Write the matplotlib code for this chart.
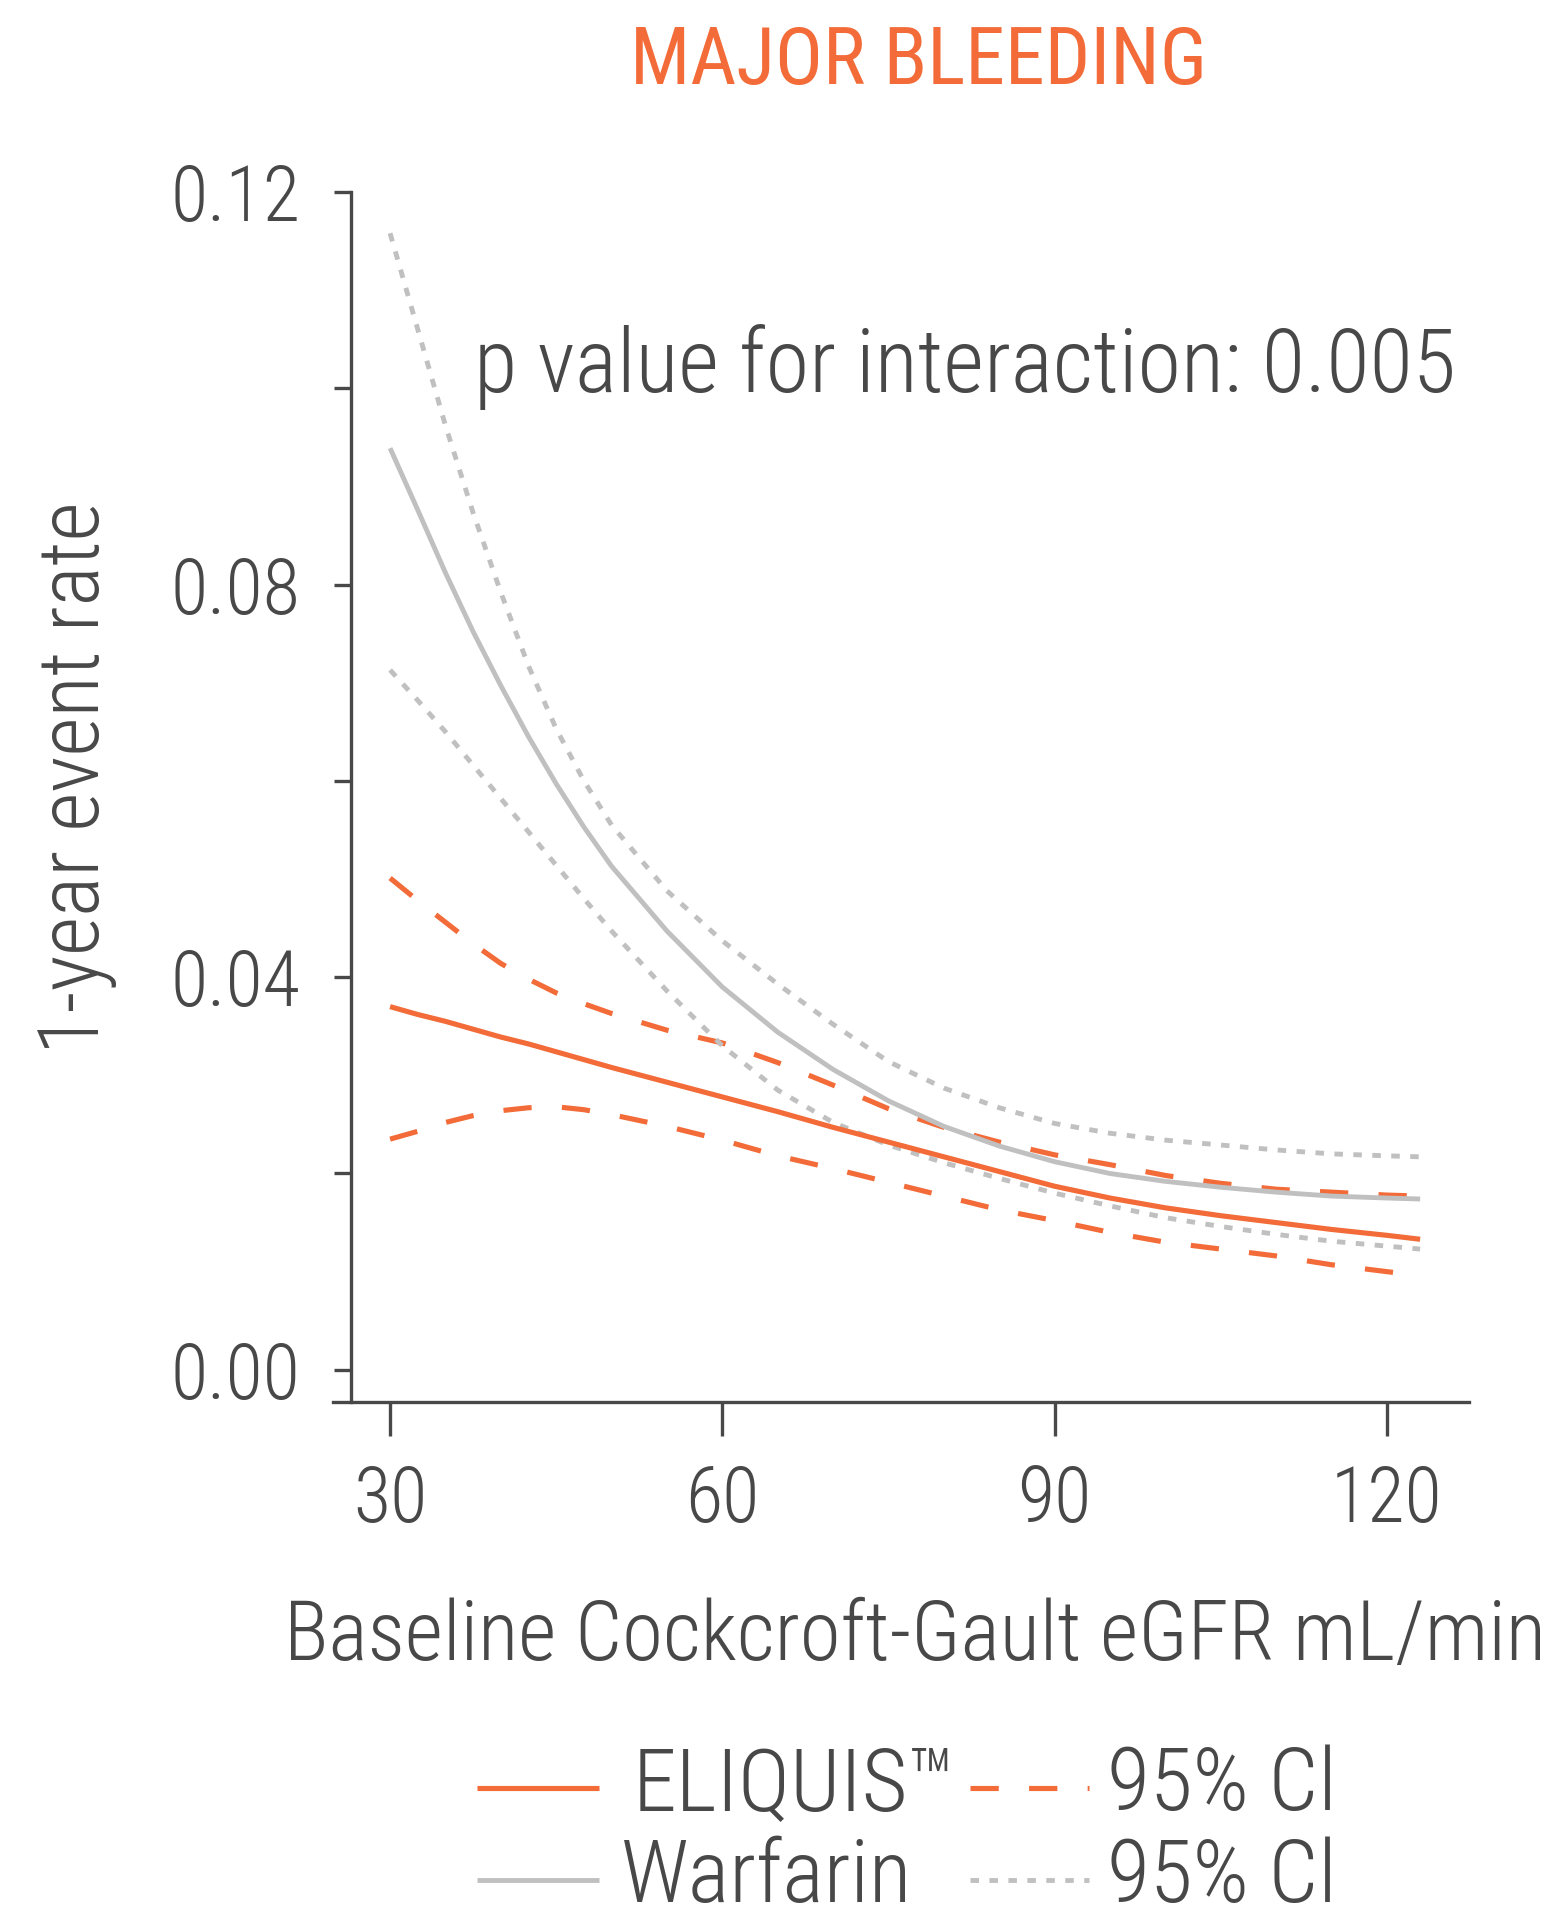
import matplotlib
matplotlib.use("Agg")
import matplotlib.pyplot as plt
from matplotlib.lines import Line2D
from matplotlib.ticker import FixedLocator
from matplotlib import font_manager

# ---- data: 1-year major bleeding event rate vs baseline CrCl ----
egfr = [30, 32.5, 35, 37.5, 40, 42.5, 45, 47.5, 50, 55, 60, 65, 70, 75, 80,
        85, 90, 95, 100, 105, 110, 115, 120, 123]

eliquis = [0.0370, 0.0362, 0.0355, 0.0347, 0.0339, 0.0332, 0.0324, 0.0316,
           0.0308, 0.0293, 0.0278, 0.0263, 0.0247, 0.0232, 0.0217, 0.0202,
           0.0187, 0.0175, 0.0165, 0.0157, 0.0150, 0.0143, 0.0137, 0.0133]
eliquis_hi = [0.0501, 0.0478, 0.0456, 0.0434, 0.0414, 0.0398, 0.0384, 0.0373,
              0.0363, 0.0346, 0.0333, 0.0313, 0.0290, 0.0266, 0.0247, 0.0232,
              0.0219, 0.0209, 0.0198, 0.0190, 0.0184, 0.0181, 0.0178, 0.0177]
eliquis_lo = [0.0235, 0.0243, 0.0252, 0.0259, 0.0264, 0.0267, 0.0268, 0.0265,
              0.0260, 0.0248, 0.0234, 0.0218, 0.0205, 0.0191, 0.0177, 0.0163,
              0.0152, 0.0140, 0.0130, 0.0123, 0.0116, 0.0107, 0.0100, 0.0096]

warfarin = [0.0939, 0.0876, 0.0812, 0.0752, 0.0697, 0.0645, 0.0597, 0.0553,
            0.0513, 0.0447, 0.0390, 0.0344, 0.0306, 0.0274, 0.0248, 0.0228,
            0.0212, 0.0200, 0.0192, 0.0186, 0.0181, 0.0177, 0.0175, 0.0174]
warfarin_hi = [0.1158, 0.1060, 0.0962, 0.0873, 0.0792, 0.0717, 0.0653, 0.0600,
               0.0555, 0.0488, 0.0437, 0.0393, 0.0352, 0.0314, 0.0287, 0.0267,
               0.0251, 0.0241, 0.0234, 0.0229, 0.0224, 0.0220, 0.0218, 0.0217]
warfarin_lo = [0.0713, 0.0682, 0.0650, 0.0616, 0.0582, 0.0548, 0.0514, 0.0480,
               0.0447, 0.0386, 0.0330, 0.0285, 0.0252, 0.0229, 0.0211, 0.0195,
               0.0180, 0.0167, 0.0155, 0.0146, 0.0138, 0.0131, 0.0126, 0.0123]

x_ticks = [30, 60, 90, 120]
y_ticks = [0.00, 0.04, 0.08, 0.12]
y_minor = [0.02, 0.06, 0.10]
y_tick_labels = ["0.00", "0.04", "0.08", "0.12"]

title = "MAJOR BLEEDING"
x_label = "Baseline Cockcroft-Gault eGFR mL/min"
y_label = "1-year event rate"
p_text = "p value for interaction: 0.005"
legend_labels = ["ELIQUIS\u2122", "Warfarin", "95% Cl", "95% Cl"]

# ---- style ----
ORANGE = "#F26B38"
GREY = "#C0C0C0"
INK = "#484848"
DASH = (0, (5.5, 5.9))
DOT = (0, (1.75, 2.15))
LW_O, LW_G = 3.7, 3.5

available = {f.name for f in font_manager.fontManager.ttflist}
family = next((f for f in ("Roboto Condensed", "Liberation Sans Narrow", "Roboto")
               if f in available), "DejaVu Sans")
plt.rcParams["font.family"] = [family, "DejaVu Sans"]
plt.rcParams["text.color"] = INK
BODY_WEIGHT = "light"

W, H = 1563, 1918
fig = plt.figure(figsize=(W / 100, H / 100), dpi=100)
fig.patch.set_facecolor("white")
renderer = fig.canvas.get_renderer()


def size_for_width(s, target_px, weight=BODY_WEIGHT, probe=50):
    """Font size (pt) at which string s renders target_px wide."""
    t = fig.text(0, 0, s, fontsize=probe, fontweight=weight)
    w = t.get_window_extent(renderer).width
    t.remove()
    return probe * target_px / w


ax = fig.add_axes([332.6 / W, 1 - 1401.6 / H, (1469 - 332.6) / W, (1401.6 - 192) / H])
ax.set_xlim(24.81, 127.41)
ax.set_ylim(-0.00324, 0.12)

ax.plot(egfr, eliquis_hi, color=ORANGE, lw=LW_O, ls=DASH)
ax.plot(egfr, eliquis_lo, color=ORANGE, lw=LW_O, ls=DASH)
ax.plot(egfr, warfarin_hi, color=GREY, lw=LW_G, ls=DOT)
ax.plot(egfr, warfarin_lo, color=GREY, lw=LW_G, ls=DOT)
ax.plot(egfr, warfarin, color=GREY, lw=LW_G, solid_capstyle="butt")
ax.plot(egfr, eliquis, color=ORANGE, lw=LW_O, solid_capstyle="butt")

for side in ("top", "right"):
    ax.spines[side].set_visible(False)
ax.spines["left"].set_position(("data", 26.47))
for side in ("left", "bottom"):
    ax.spines[side].set_color(INK)
    ax.spines[side].set_linewidth(2.4)

tick_fs = size_for_width("0.12", 130)
ax.xaxis.set_major_locator(FixedLocator(x_ticks))
ax.set_xticklabels([str(v) for v in x_ticks], fontweight=BODY_WEIGHT)
ax.yaxis.set_major_locator(FixedLocator(y_ticks))
ax.yaxis.set_minor_locator(FixedLocator(y_minor))
ax.set_yticklabels(y_tick_labels, fontweight=BODY_WEIGHT)

ax.tick_params(axis="x", which="major", length=24.5, width=2.4, color=INK,
               pad=20, labelsize=tick_fs, labelcolor=INK)
ax.tick_params(axis="y", which="both", length=12.5, width=2.4, color=INK,
               pad=24, labelsize=tick_fs, labelcolor=INK)

# ---- texts ----
fig.text(919 / W, 1 - 84 / H, title, ha="center", va="baseline",
         fontsize=size_for_width(title, 578, "normal"), fontweight="normal",
         color=ORANGE)
fig.text(474.5 / W, 1 - 391.7 / H, p_text, ha="left", va="baseline",
         fontsize=size_for_width(p_text, 983), fontweight=BODY_WEIGHT, color=INK)
fig.text(915 / W, 1 - 1660 / H, x_label, ha="center", va="baseline",
         fontsize=size_for_width(x_label, 1263), fontweight=BODY_WEIGHT, color=INK)
fig.text(76 / W, 1 - 778 / H, y_label, ha="center", va="center", rotation=90,
         fontsize=size_for_width(y_label, 553), fontweight=BODY_WEIGHT, color=INK)

# ---- legend: two rows, two columns ----
leg_fs = size_for_width(legend_labels[2], 230)
rows = [(1788, 1810), (1880, 1902)]          # (handle y, text baseline) in px from top
col1_x, col1_text = (477, 599), [633, 621]
col2_x, col2_text = (970, 1089), [1107, 1107]
handles = [
    (col1_x, dict(color=ORANGE, lw=LW_O, solid_capstyle="butt")),
    (col1_x, dict(color=GREY, lw=LW_G, solid_capstyle="butt")),
    (col2_x, dict(color=ORANGE, lw=LW_O, ls=DASH)),
    (col2_x, dict(color=GREY, lw=LW_G, ls=DOT)),
]
text_x = [col1_text[0], col1_text[1], col2_text[0], col2_text[1]]
for i, ((x0, x1), style) in enumerate(handles):
    hy, base = rows[i % 2]
    fig.add_artist(Line2D([x0 / W, x1 / W], [1 - hy / H, 1 - hy / H],
                          transform=fig.transFigure, **style))
    fig.text(text_x[i] / W, 1 - base / H, legend_labels[i], ha="left",
             va="baseline", fontsize=leg_fs, fontweight=BODY_WEIGHT, color=INK)

fig.savefig("out.png", dpi=100, facecolor="white")
